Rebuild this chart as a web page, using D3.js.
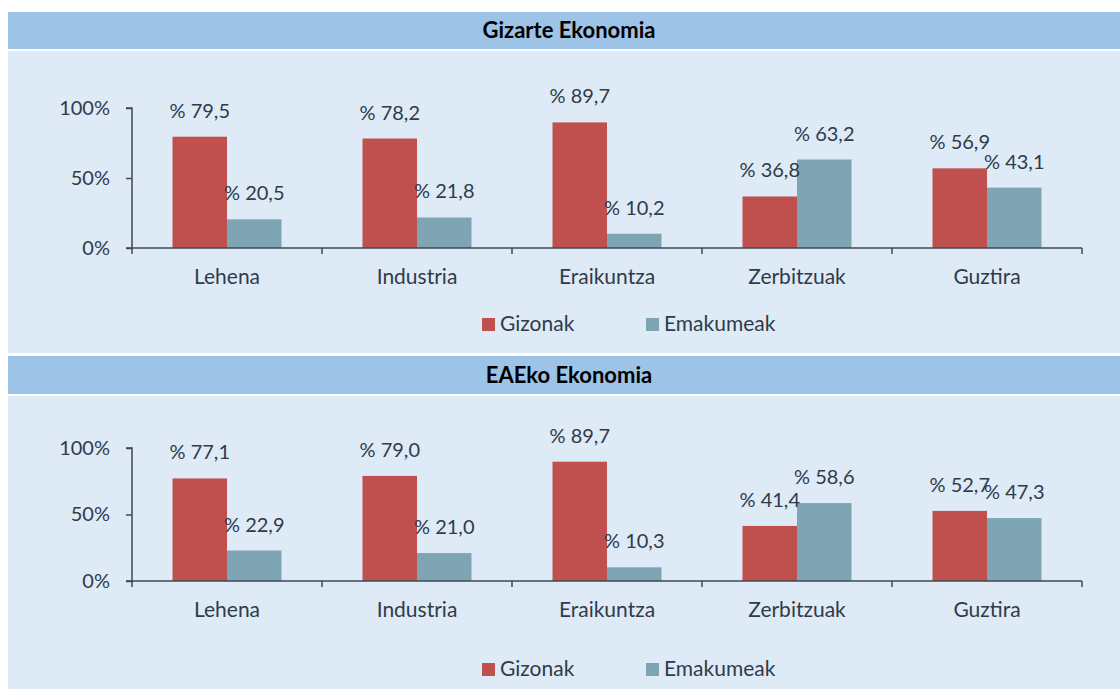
<!DOCTYPE html>
<html>
<head>
<meta charset="utf-8">
<script src="https://cdn.jsdelivr.net/npm/d3@7"></script>
<style>
  html, body { margin: 0; padding: 0; background: #fff; }
  svg { display: block; }
  text { font-family: Lato, "Open Sans", sans-serif; fill: #2f3b4a; }
</style>
</head>
<body>
<svg id="chart" width="1120" height="689"></svg>
<script>
  var categories = ['Lehena', 'Industria', 'Eraikuntza', 'Zerbitzuak', 'Guztira'];
  var seriesNames = ['Gizonak', 'Emakumeak'];
  var yTicks = [0, 50, 100];

  var gizarteGizonak = [79.5, 78.2, 89.7, 36.8, 56.9];
  var gizarteEmakumeak = [20.5, 21.8, 10.2, 63.2, 43.1];
  var eaeGizonak = [77.1, 79.0, 89.7, 41.4, 52.7];
  var eaeEmakumeak = [22.9, 21.0, 10.3, 58.6, 47.3];

  var panels = [
    { title: 'Gizarte Ekonomia', values: [gizarteGizonak, gizarteEmakumeak],
      headTop: 12, headBottom: 49, bodyTop: 51, bodyBottom: 353, y0: 248, y100: 108, legendY: 318 },
    { title: 'EAEko Ekonomia', values: [eaeGizonak, eaeEmakumeak],
      headTop: 356, headBottom: 394, bodyTop: 396, bodyBottom: 689, y0: 581, y100: 448, legendY: 663 }
  ];

  var colors = d3.scaleOrdinal().domain(seriesNames).range(['#c0504d', '#7fa4b3']);
  var fmt = function(v) { return '% ' + v.toFixed(1).replace('.', ','); };

  var svg = d3.select('#chart');
  var x0 = d3.scaleBand().domain(categories).range([132, 1082]);
  var x1 = d3.scaleBand().domain(seriesNames).range([40.5, 149.5]);

  panels.forEach(function(p) {
    svg.append('rect')
      .attr('x', 8).attr('y', p.headTop)
      .attr('width', 1112).attr('height', p.headBottom - p.headTop)
      .attr('fill', '#9dc3e6');
    svg.append('rect')
      .attr('x', 8).attr('y', p.bodyTop)
      .attr('width', 1112).attr('height', p.bodyBottom - p.bodyTop)
      .attr('fill', '#deeaf6');
    svg.append('text')
      .attr('x', 569).attr('y', (p.headTop + p.headBottom) / 2 + 7.5)
      .attr('text-anchor', 'middle')
      .style('font-weight', 'bold').style('font-size', '22px').style('fill', '#000')
      .text(p.title);

    var y = d3.scaleLinear().domain([0, 100]).range([p.y0, p.y100]);

    // bars
    var rows = [];
    categories.forEach(function(c, i) {
      seriesNames.forEach(function(s, j) {
        rows.push({ cat: c, series: s, value: p.values[j][i] });
      });
    });

    var g = svg.append('g');
    g.selectAll('rect.bar')
      .data(rows)
      .enter()
      .append('rect')
      .attr('class', 'bar')
      .attr('x', function(d) { return x0(d.cat) + x1(d.series); })
      .attr('y', function(d) { return y(d.value); })
      .attr('width', x1.bandwidth())
      .attr('height', function(d) { return y(0) - y(d.value); })
      .attr('fill', function(d) { return colors(d.series); });

    g.selectAll('text.lbl')
      .data(rows)
      .enter()
      .append('text')
      .attr('class', 'lbl')
      .attr('x', function(d) { return x0(d.cat) + x1(d.series) + x1.bandwidth() / 2; })
      .attr('y', function(d) { return y(d.value) - 19; })
      .attr('text-anchor', 'middle')
      .style('font-size', '20px')
      .text(function(d) { return fmt(d.value); });

    // axes
    var yAxis = d3.axisLeft(y).tickValues(yTicks).tickSize(6).tickPadding(16)
      .tickFormat(function(d) { return d + '%'; });
    var ya = svg.append('g').attr('transform', 'translate(132,0)').call(yAxis);
    var xAxis = d3.axisBottom(x0).tickSize(0).tickPadding(21);
    var xa = svg.append('g').attr('transform', 'translate(0,' + p.y0 + ')').call(xAxis);

    [ya, xa].forEach(function(a) {
      a.selectAll('path, line').attr('stroke', '#3d4853').attr('stroke-width', 1.5);
      a.selectAll('text').attr('fill', '#2f3b4a').style('font-family', 'Lato, sans-serif');
    });
    ya.selectAll('text').style('font-size', '20px');
    xa.selectAll('text').style('font-size', '21px');
    ya.select('.domain').attr('d', 'M-6,' + y(100) + 'H0V' + y(0) + 'H-6');
    xa.select('.domain').attr('d', 'M132,0H1082');

    // category boundary ticks
    var bounds = categories.map(function(c) { return x0(c); }).concat([x0.range()[1]]);
    xa.selectAll('line.bnd')
      .data(bounds)
      .enter()
      .append('line')
      .attr('class', 'bnd')
      .attr('x1', function(d) { return d; })
      .attr('x2', function(d) { return d; })
      .attr('y1', 0).attr('y2', 6)
      .attr('stroke', '#3d4853').attr('stroke-width', 1.5);

    // legend
    var legendX = [482, 646];
    var lg = svg.append('g');
    lg.selectAll('rect')
      .data(seriesNames)
      .enter()
      .append('rect')
      .attr('x', function(d, i) { return legendX[i]; })
      .attr('y', p.legendY)
      .attr('width', 13).attr('height', 13)
      .attr('fill', function(d) { return colors(d); });
    lg.selectAll('text')
      .data(seriesNames)
      .enter()
      .append('text')
      .attr('x', function(d, i) { return legendX[i] + 18; })
      .attr('y', p.legendY + 13)
      .style('font-size', '21px')
      .text(function(d) { return d; });
  });
</script>
</body>
</html>
